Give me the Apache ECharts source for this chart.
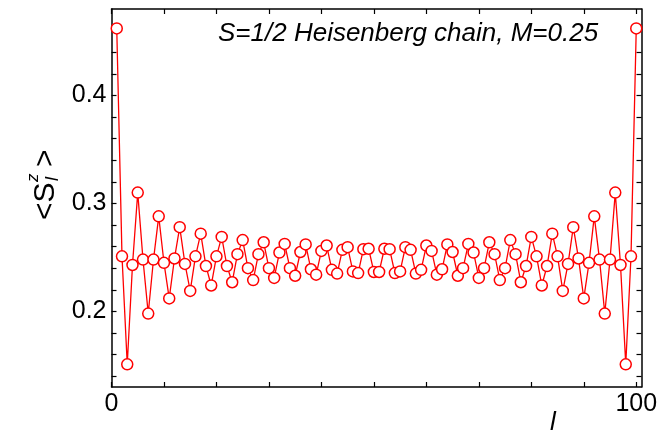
<!DOCTYPE html>
<html>
<head>
<meta charset="utf-8">
<script src="https://cdn.jsdelivr.net/npm/echarts@6/dist/echarts.min.js"></script>
<style>html,body{margin:0;padding:0;background:#fff}#c{width:666px;height:432px}</style>
</head>
<body>
<div id="c"></div>
<script>
// site index l
var sites = [1,2,3,4,5,6,7,8,9,10,11,12,13,14,15,16,17,18,19,20,21,22,23,24,25,26,27,28,29,30,31,32,33,34,35,36,37,38,39,40,41,42,43,44,45,46,47,48,49,50,
             51,52,53,54,55,56,57,58,59,60,61,62,63,64,65,66,67,68,69,70,71,72,73,74,75,76,77,78,79,80,81,82,83,84,85,86,87,88,89,90,91,92,93,94,95,96,97,98,99,100];
// <S^z_l>
var szValues = [0.462,0.251,0.151,0.243,0.310,0.248,0.198,0.248,0.288,0.245,
                0.212,0.249,0.278,0.244,0.219,0.251,0.272,0.242,0.224,0.251,
                0.269,0.242,0.227,0.253,0.266,0.240,0.229,0.253,0.264,0.240,
                0.231,0.2545,0.2625,0.240,0.233,0.255,0.262,0.239,0.234,0.256,
                0.261,0.2385,0.235,0.257,0.2595,0.237,0.2355,0.2576,0.258,0.2365,
                0.2365,0.258,0.2576,0.2355,0.237,0.2595,0.257,0.235,0.2385,0.261,
                0.256,0.234,0.239,0.262,0.255,0.233,0.240,0.2625,0.2545,0.231,
                0.240,0.264,0.253,0.229,0.240,0.266,0.253,0.227,0.242,0.269,
                0.251,0.224,0.242,0.272,0.251,0.219,0.244,0.278,0.249,0.212,
                0.245,0.288,0.248,0.198,0.248,0.310,0.243,0.151,0.251,0.462];
var xTicks = [0,10,20,30,40,50,60,70,80,90,100];
var xLabels = [0,100];
var yTicks = [0.14,0.16,0.18,0.20,0.22,0.24,0.26,0.28,0.30,0.32,0.34,0.36,0.38,0.40,0.42,0.44,0.46];
var yLabels = [0.2,0.3,0.4];
var titleText = 'S=1/2 Heisenberg chain, M=0.25';

var FONT = '"Liberation Sans", Arial, Helvetica, sans-serif';
var data = sites.map(function (l, i) { return [l, szValues[i]]; });
var lineAx = { show: true, onZero: false, lineStyle: { color: '#000', width: 1.5 } };

var chart = echarts.init(document.getElementById('c'), null, { renderer: 'canvas' });
chart.setOption({
  animation: false,
  backgroundColor: '#fff',
  title: {
    text: titleText, left: 213, top: 16,
    textStyle: { fontFamily: FONT, fontStyle: 'italic', fontWeight: 'normal', fontSize: 26, color: '#000' }
  },
  grid: { left: 111.5, right: 24.5, top: 9, bottom: 45, containLabel: false },
  xAxis: [{
    type: 'value', min: 0, max: 101, position: 'bottom',
    axisLine: lineAx,
    axisTick: { show: true, inside: true, length: 5, customValues: xTicks, lineStyle: { color: '#000', width: 1.2 } },
    axisLabel: { show: true, customValues: xLabels, margin: 5, fontFamily: FONT, fontSize: 25, color: '#000' },
    splitLine: { show: false }
  }, {
    type: 'value', min: 0, max: 101, position: 'top',
    axisLine: lineAx,
    axisTick: { show: true, inside: true, length: 5, customValues: xTicks, lineStyle: { color: '#000', width: 1.2 } },
    axisLabel: { show: false },
    splitLine: { show: false }
  }],
  yAxis: [{
    type: 'value', min: 0.13, max: 0.48, position: 'left',
    axisLine: lineAx,
    axisTick: { show: true, inside: true, length: 5, customValues: yTicks, lineStyle: { color: '#000', width: 1.2 } },
    axisLabel: { show: true, customValues: yLabels, margin: 5, fontFamily: FONT, fontSize: 25, color: '#000',
                 formatter: function (v) { return v.toFixed(1); } },
    splitLine: { show: false }
  }, {
    type: 'value', min: 0.13, max: 0.48, position: 'right',
    axisLine: lineAx,
    axisTick: { show: true, inside: true, length: 5, customValues: yTicks, lineStyle: { color: '#000', width: 1.2 } },
    axisLabel: { show: false },
    splitLine: { show: false }
  }],
  graphic: [
    {
      type: 'text', left: 550, top: 410,
      style: { text: 'l', font: 'italic 26px ' + FONT, fill: '#000' }
    },
    {
      type: 'group', x: 61, y: 220, rotation: Math.PI / 2,
      children: [
        { type: 'text', x: 0, y: 0, style: { text: '<S', font: '30px ' + FONT, fill: '#000', textVerticalAlign: 'bottom' } },
        { type: 'text', x: 38, y: -19, style: { text: 'z', font: 'italic 17px ' + FONT, fill: '#000', textVerticalAlign: 'bottom' } },
        { type: 'text', x: 39, y: 1, style: { text: 'l', font: 'italic 18px ' + FONT, fill: '#000', textVerticalAlign: 'bottom' } },
        { type: 'text', x: 53, y: 0, style: { text: '>', font: '30px ' + FONT, fill: '#000', textVerticalAlign: 'bottom' } }
      ]
    }
  ],
  series: [{
    type: 'line', xAxisIndex: 0, yAxisIndex: 0, data: data,
    showAllSymbol: true, symbol: 'circle', symbolSize: 11,
    itemStyle: { color: '#fff', borderColor: '#ff0000', borderWidth: 1.5 },
    lineStyle: { color: '#ff0000', width: 1.3 },
    emphasis: { disabled: true }
  }]
});
</script>
</body>
</html>
